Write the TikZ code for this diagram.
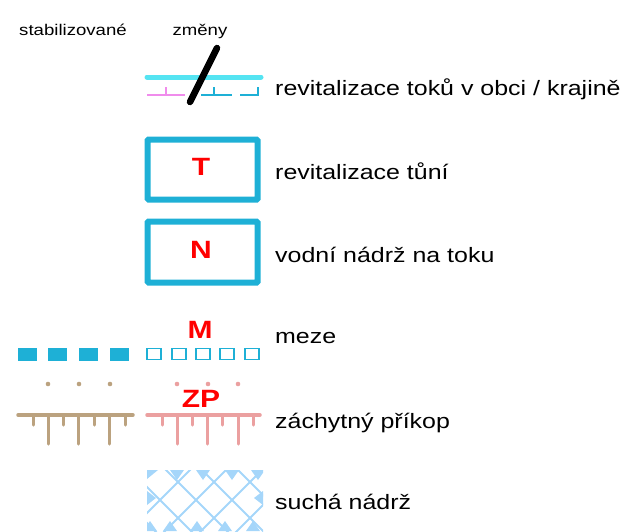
\documentclass[tikz,border=0pt]{standalone}
\usepackage{fontspec}
\setmainfont{Liberation Sans}[FakeStretch=1.2]
\usepackage{tikz}
\usetikzlibrary{positioning}
\definecolor{tokcyan}{HTML}{55E4F2}
\definecolor{vodablue}{HTML}{1EB0D6}
\definecolor{tokpink}{HTML}{F08CEC}
\definecolor{mezbrown}{HTML}{BBA27F}
\definecolor{zppink}{HTML}{EBA0A0}
\definecolor{suchablue}{HTML}{A5D6FA}
\tikzset{
  legtext/.style={anchor=base west, inner sep=0pt, font=\fontsize{20.8}{24}\selectfont},
  headtext/.style={anchor=base, inner sep=0pt, font=\fontsize{15.5}{18}\selectfont},
  zkratka/.style={anchor=base, inner sep=0pt, text=red, font=\fontsize{25}{30}\selectfont\bfseries},
  vodbox/.style={draw=vodablue, line width=6pt, rounded corners=1pt},
  hreben/.style={line width=3.5pt, line cap=round},
  zub/.style={line width=3pt, line cap=round}
}

\begin{document}
\begin{tikzpicture}[x=1pt, y=-1pt]
  \useasboundingbox (0,0) rectangle (624,531);

  % hlavicka
  \node[headtext] (stab) at (73,35) {stabilizované};
  \node[headtext] (zmeny) at (200,35) {změny};

  % revitalizace toku
  \draw[tokcyan, line width=5pt, line cap=round] (147,77) -- (261,77);
  \draw[tokpink, line width=2.5pt] (147,95) -- (185,95) (166,87) -- (166,95);
  \draw[vodablue, line width=2.5pt] (201,95) -- (232,95) (214,87) -- (214,95);
  \draw[vodablue, line width=2.5pt] (240,95) -- (259,95) (258,87) -- (258,95);
  \draw[black, line width=6.5pt, line cap=round] (190,102) -- (217,48);
  \node[legtext] (tok) at (275,95) {revitalizace toků v obci / krajině};

  % tune a nadrz
  \draw[vodbox] (147.5,139.5) rectangle (257.5,199.5);
  \node[zkratka] (tT) at (201,175) {T};
  \node[legtext] (tune) at (275,179) {revitalizace tůní};

  \draw[vodbox] (147.5,221.5) rectangle (257.5,282.5);
  \node[zkratka] (tN) at (201,258) {N};
  \node[legtext] (nadrz) at (275,262) {vodní nádrž na toku};

  % meze
  \node[zkratka] (tM) at (200,338) {M};
  \foreach \x in {18,48,79,110}
    \fill[vodablue] (\x,347.5) rectangle ++(19,13);
  \foreach \x in {147,172,196,220,245}
    \draw[vodablue, line width=1.6pt] (\x,348.5) rectangle ++(14,11);
  \node[legtext] (meze) at (275,343) {meze};

  % zachytny prikop
  \foreach \x in {48,79,110}
    \fill[mezbrown] (\x,384) circle (2.3);
  \foreach \x in {177,208,238}
    \fill[zppink] (\x,384) circle (2.3);
  \node[zkratka] (tZP) at (201,407) {ZP};
  \draw[mezbrown, hreben] (18,415) -- (133,415);
  \foreach \x in {33,63,94,125}
    \draw[mezbrown, zub] (\x,415) -- (\x,425);
  \foreach \x in {48,78,109}
    \draw[mezbrown, zub] (\x,415) -- (\x,444);
  \draw[zppink, hreben] (147,415) -- (260,415);
  \foreach \x in {162,192,222,253}
    \draw[zppink, zub] (\x,415) -- (\x,425);
  \foreach \x in {177,207,238}
    \draw[zppink, zub] (\x,415) -- (\x,444);
  \node[legtext] (prikop) at (275,428) {záchytný příkop};

  % sucha nadrz
  \begin{scope}
    \clip (147,470) rectangle (263,531);
    \foreach \c in {-1,0,...,6}
      \draw[suchablue, line width=2pt] (120+36*\c,460) -- ++(80,80);
    \foreach \c in {-1,0,...,6}
      \draw[suchablue, line width=2pt] (120+36*\c,540) -- ++(80,-80);
    \foreach \x in {177,203,232,258}
      \fill[suchablue] (\x-7,470) -- (\x+7,470) -- (\x,480) -- cycle;
    \fill[suchablue] (147,470) -- (158,470) -- (147,479) -- cycle;
    \foreach \x in {150,170,197,225,253}
      \fill[suchablue] (\x-7,531) -- (\x+7,531) -- (\x,521) -- cycle;
    \fill[suchablue] (147,491) -- (147,505) -- (156,498) -- cycle;
    \fill[suchablue] (263,491) -- (263,505) -- (254,498) -- cycle;
  \end{scope}
  \node[legtext] (sucha) at (275,509) {suchá nádrž};
\end{tikzpicture}
\end{document}
